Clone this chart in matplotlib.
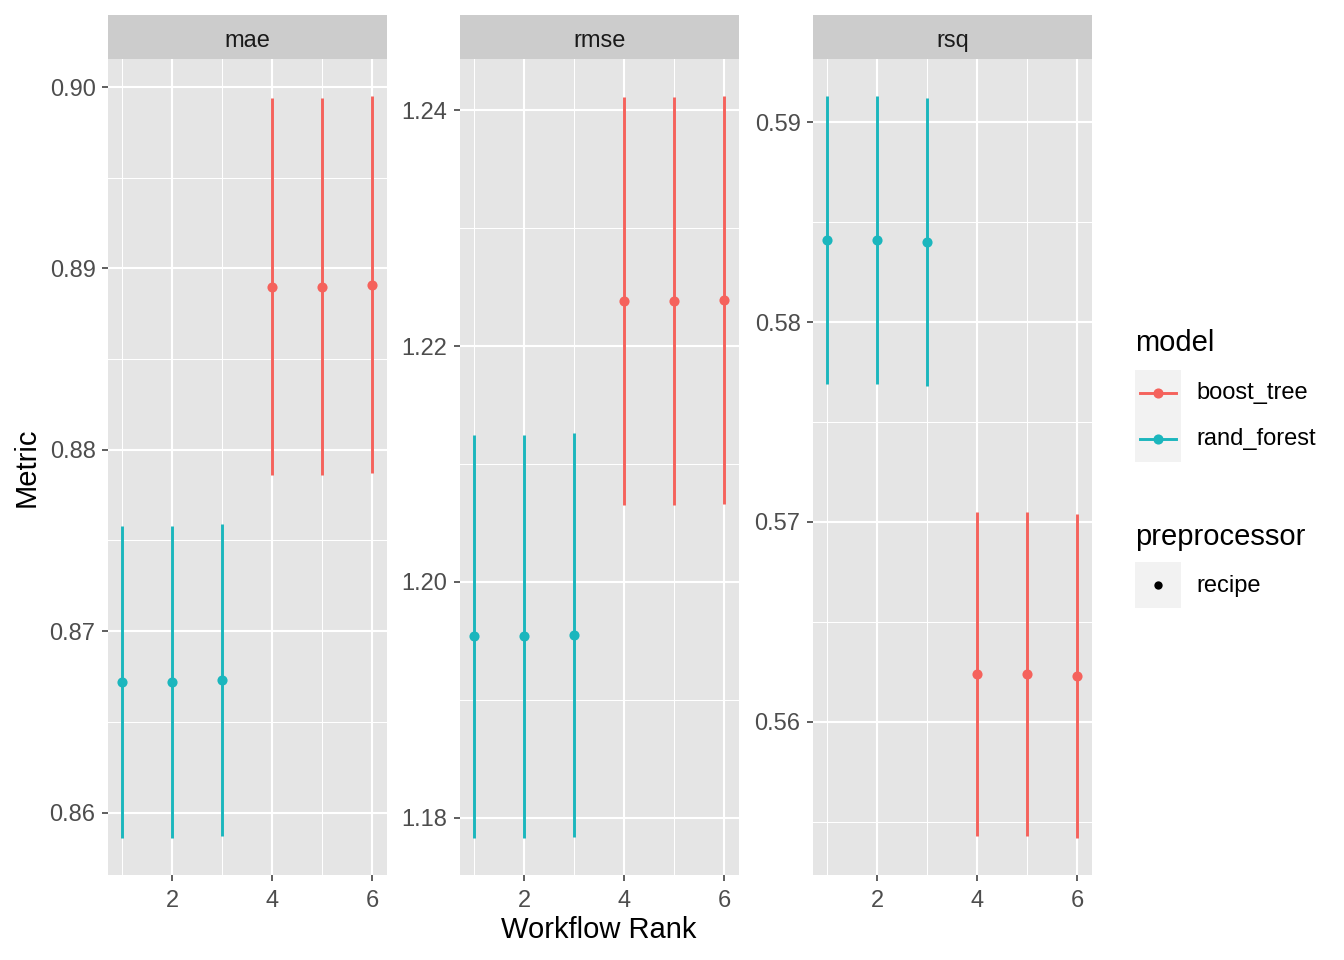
import numpy as np
import matplotlib
matplotlib.use("Agg")
import matplotlib.pyplot as plt
from matplotlib.ticker import MultipleLocator
from matplotlib.patches import Rectangle

plt.rcParams["font.family"] = ["Liberation Sans", "DejaVu Sans"]

# data: workflow rank, model and metric estimates (mean +/- half width)
rank = [1, 2, 3, 4, 5, 6]
model = ["rand_forest", "rand_forest", "rand_forest", "boost_tree", "boost_tree", "boost_tree"]
metrics = ["mae", "rmse", "rsq"]
mae_mean = [0.8672, 0.8672, 0.8673, 0.8890, 0.8890, 0.8891]
mae_err = [0.0086, 0.0086, 0.0086, 0.0104, 0.0104, 0.0104]
rmse_mean = [1.1954, 1.1954, 1.1955, 1.2238, 1.2238, 1.2239]
rmse_err = [0.0171, 0.0171, 0.0171, 0.0173, 0.0173, 0.0173]
rsq_mean = [0.5841, 0.5841, 0.5840, 0.5624, 0.5624, 0.5623]
rsq_err = [0.0072, 0.0072, 0.0072, 0.0081, 0.0081, 0.0081]

means = {"mae": mae_mean, "rmse": rmse_mean, "rsq": rsq_mean}
errs = {"mae": mae_err, "rmse": rmse_err, "rsq": rsq_err}
major_step = {"mae": 0.01, "rmse": 0.02, "rsq": 0.01}

colors = {"boost_tree": "#F5625C", "rand_forest": "#1BB6BD"}
panel_bg = "#E5E5E5"
strip_bg = "#CCCCCC"
tick_col = "#4D4D4D"

W, H = 1344, 960
fig = plt.figure(figsize=(W / 100, H / 100), dpi=100)

# panel edges in pixels
lefts = [108, 460, 813]
pw = 278.5
top, bottom = 59, 875
strip_top = 15


def frac(x0, y0, w, h):
    return [x0 / W, 1 - (y0 + h) / H, w / W, h / H]


for i, m in enumerate(metrics):
    ax = fig.add_axes(frac(lefts[i], top, pw, bottom - top))
    ax.set_facecolor(panel_bg)
    mu = np.array(means[m])
    se = np.array(errs[m])
    lo, hi = mu - se, mu + se

    for r, mo, a, b, c in zip(rank, model, lo, hi, mu):
        ax.plot([r, r], [a, b], color=colors[mo], lw=2.1, solid_capstyle="butt", zorder=3)
        ax.plot(r, c, "o", color=colors[mo], ms=7.3, mec="none", zorder=4)

    span = hi.max() - lo.min()
    ax.set_ylim(lo.min() - 0.05 * span, hi.max() + 0.05 * span)
    ax.set_xlim(0.72, 6.28)

    ax.xaxis.set_major_locator(MultipleLocator(2))
    ax.xaxis.set_minor_locator(MultipleLocator(1))
    ax.yaxis.set_major_locator(MultipleLocator(major_step[m]))
    ax.yaxis.set_minor_locator(MultipleLocator(major_step[m] / 2))
    ax.grid(which="major", color="white", lw=1.5)
    ax.grid(which="minor", color="white", lw=0.75)
    ax.set_axisbelow(True)
    for s in ax.spines.values():
        s.set_visible(False)
    ax.tick_params(which="major", length=4.5, width=1.1, color="#333333",
                   labelsize=17, labelcolor=tick_col)
    ax.tick_params(axis="x", pad=6)
    ax.tick_params(axis="y", pad=4.5)
    ax.tick_params(which="minor", length=0)
    ax.yaxis.set_major_formatter(plt.FuncFormatter(lambda v, p: f"{v:.2f}"))

    # facet strip
    sax = fig.add_axes(frac(lefts[i], strip_top, pw, top - strip_top))
    sax.set_facecolor(strip_bg)
    sax.set_xticks([])
    sax.set_yticks([])
    for s in sax.spines.values():
        s.set_visible(False)
    sax.text(0.5, 0.42, m, ha="center", va="center", fontsize=17, color="#1A1A1A",
             transform=sax.transAxes)

fig.text(27 / W, 1 - 467 / H, "Metric", rotation=90, ha="center", va="center", fontsize=21)
fig.text(599 / W, 1 - 930 / H, "Workflow Rank", ha="center", va="center", fontsize=21)

# legends drawn in pixel space
lax = fig.add_axes([0, 0, 1, 1])
lax.set_xlim(0, W)
lax.set_ylim(H, 0)
lax.axis("off")

lax.text(1135, 343, "model", fontsize=21, va="center", ha="left")
for j, mo in enumerate(["boost_tree", "rand_forest"]):
    y0 = 370 + j * 46
    lax.add_patch(Rectangle((1135, y0), 46, 46, color="#F2F2F2", lw=0))
    lax.plot([1140, 1176], [y0 + 23, y0 + 23], color=colors[mo], lw=2.1)
    lax.plot(1158, y0 + 23, "o", color=colors[mo], ms=7.3, mec="none")
    lax.text(1196, y0 + 23, mo, fontsize=17, va="center", ha="left")

lax.text(1135, 537, "preprocessor", fontsize=21, va="center", ha="left")
lax.add_patch(Rectangle((1135, 562), 46, 46, color="#F2F2F2", lw=0))
lax.plot(1158, 585, "o", color="black", ms=6, mec="none")
lax.text(1196, 586, "recipe", fontsize=17, va="center", ha="left")

fig.savefig("out.png", dpi=100, facecolor="white")
